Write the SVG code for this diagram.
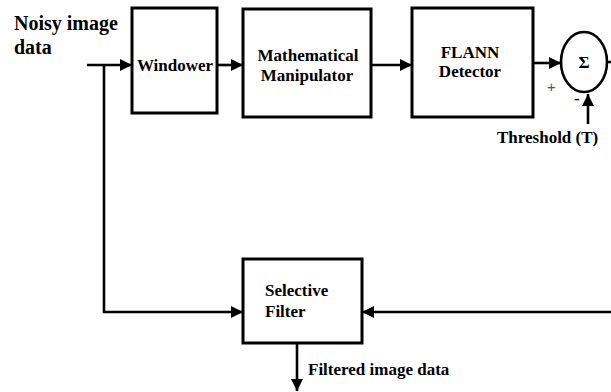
<svg xmlns="http://www.w3.org/2000/svg" width="611" height="392" viewBox="0 0 611 392">
  <defs>
    <marker id="arrow" viewBox="0 0 12 12" refX="12" refY="6" markerWidth="12" markerHeight="12" markerUnits="userSpaceOnUse" orient="auto">
      <path d="M0,0 L12,6 L0,12 Z" fill="#000"/>
    </marker>
  </defs>
  <style>
    .box { fill: #fff; stroke: #000; stroke-width: 3; }
    .wire { fill: none; stroke: #000; stroke-width: 2.6; }
    .lbl { font-family: "Liberation Serif", "Times New Roman", serif; font-weight: bold; font-size: 17px; fill: #000; }
    .big { font-size: 20px; }
    .mid { text-anchor: middle; }
    .plus { font-family: "Liberation Sans", Arial, sans-serif; font-size: 15px; fill: #555; }
  </style>
  <rect width="611" height="392" fill="#fff"/>

  <!-- connectors -->
  <g id="connectors">
    <path class="wire" d="M87,65 H132" marker-end="url(#arrow)"/>
    <path class="wire" d="M104,65 V312 H243" marker-end="url(#arrow)"/>
    <path class="wire" d="M217,65 H243" marker-end="url(#arrow)"/>
    <path class="wire" d="M371,65 H412" marker-end="url(#arrow)"/>
    <path class="wire" d="M533,63 H561" marker-end="url(#arrow)"/>
    <path class="wire" d="M588,124 V94" marker-end="url(#arrow)"/>
    <path class="wire" d="M607,62 H620 V312 H362" marker-end="url(#arrow)"/>
    <path class="wire" d="M297,343 V391" marker-end="url(#arrow)"/>
  </g>

  <!-- input label -->
  <g id="input">
    <text class="lbl big" x="14" y="30">Noisy image</text>
    <text class="lbl big" x="14" y="54">data</text>
  </g>

  <g id="windower">
    <rect class="box" x="132" y="8" width="85" height="105"/>
    <text class="lbl mid" x="175" y="71">Windower</text>
  </g>

  <g id="manipulator">
    <rect class="box" x="243" y="9" width="128" height="108"/>
    <text class="lbl mid" x="308" y="61">Mathematical</text>
    <text class="lbl mid" x="307" y="81">Manipulator</text>
  </g>

  <g id="detector">
    <rect class="box" x="412" y="8" width="121" height="109"/>
    <text class="lbl mid" x="470" y="58">FLANN</text>
    <text class="lbl mid" x="470" y="77">Detector</text>
  </g>

  <g id="summer">
    <ellipse cx="584" cy="62" rx="23" ry="30" fill="#fff" stroke="#000" stroke-width="2.6"/>
    <text class="lbl mid" x="584" y="68" font-size="16">Σ</text>
    <text class="plus" x="547" y="92">+</text>
    <text class="lbl" x="574" y="104">-</text>
    <text class="lbl" x="497" y="143">Threshold (T)</text>
  </g>

  <g id="filter">
    <rect class="box" x="243" y="259" width="119" height="84"/>
    <text class="lbl" x="265" y="296">Selective</text>
    <text class="lbl" x="265" y="317">Filter</text>
  </g>

  <g id="output">
    <text class="lbl" x="308" y="375">Filtered image data</text>
  </g>
</svg>
